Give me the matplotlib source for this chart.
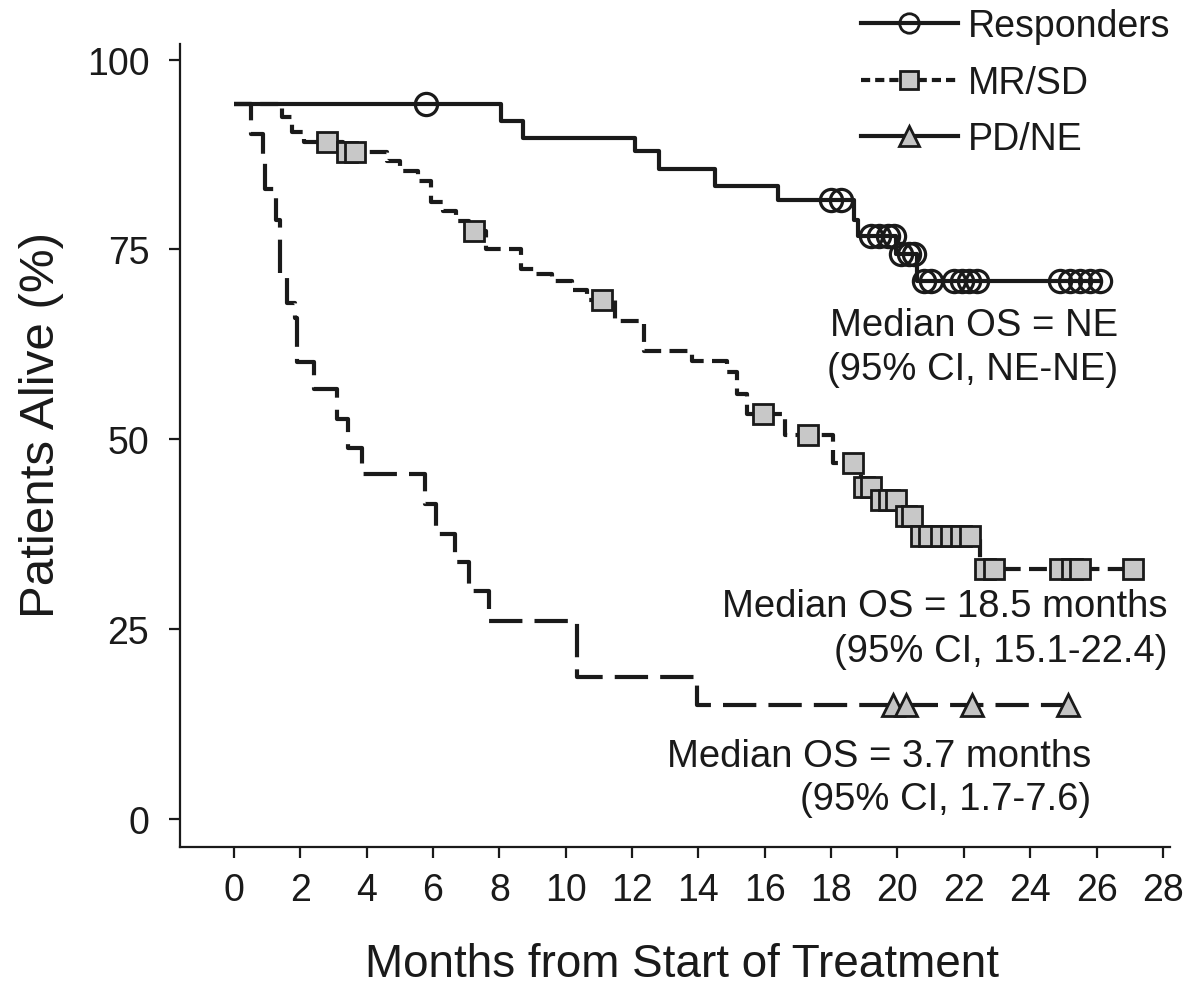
import numpy as np
import matplotlib
matplotlib.use("Agg")
import matplotlib.pyplot as plt
from matplotlib.lines import Line2D

# ---- data ----
resp_times = [0, 8.05, 8.7, 12.1, 12.8, 14.5, 16.4, 18.7, 18.8, 19.95, 20.6, 26.1]
resp_surv = [94.1, 91.9, 89.7, 87.9, 85.6, 83.4, 81.5, 78.9, 76.7, 74.4, 70.8, 70.8]
resp_cens = [5.8, 18.0, 18.3, 19.2, 19.45, 19.7, 19.9, 20.1, 20.35, 20.5,
             20.8, 21.0, 21.7, 21.95, 22.15, 22.4, 24.9, 25.2, 25.5, 25.8, 26.1]

mr_times = [0, 1.45, 1.75, 2.1, 3.3, 4.6, 5.0, 5.55, 5.95, 6.3, 6.7, 7.1, 7.6,
            8.65, 9.1, 9.6, 10.2, 10.65, 11.5, 12.35, 13.8, 14.85, 15.15, 15.45,
            16.6, 18.05, 18.9, 19.3, 20.1, 20.5, 22.5, 27.1]
mr_surv = [94.1, 92.5, 90.5, 89.1, 87.8, 86.6, 85.3, 84.0, 81.2, 80.0, 78.7, 77.4, 75.0,
           72.4, 71.7, 70.8, 69.7, 68.3, 65.5, 61.6, 60.3, 58.8, 55.9, 53.3,
           50.5, 46.9, 43.7, 42.0, 39.9, 37.3, 32.9, 32.9]
mr_cens = [2.8, 3.4, 3.65, 7.25, 11.1, 15.95, 17.3, 18.65, 19.0, 19.2, 19.5, 19.75,
           19.95, 20.25, 20.45, 20.7, 20.95, 21.3, 21.6, 21.9, 22.2, 22.65, 22.9,
           24.9, 25.25, 25.5, 27.1]

pd_times = [0, 0.5, 0.87, 0.93, 1.28, 1.4, 1.6, 1.85, 1.9, 2.4, 3.1, 3.45, 3.85,
            5.75, 6.1, 6.65, 7.1, 7.7, 10.35, 13.95, 25.15]
pd_surv = [94.1, 90.2, 87.5, 83.0, 78.9, 71.3, 68.0, 66.0, 60.2, 56.6, 52.6, 48.9, 45.4,
           41.4, 37.5, 33.8, 30.0, 26.0, 18.7, 15.0, 15.0]
pd_cens = [19.85, 20.25, 22.25, 25.15]

labels = ["Responders", "MR/SD", "PD/NE"]
x_ticks = list(range(0, 29, 2))
y_ticks = [0, 25, 50, 75, 100]
annotations = [
    ("Median OS = NE", "(95% CI, NE-NE)", 26.65, 65.1, 59.2),
    ("Median OS = 18.5 months", "(95% CI, 15.1-22.4)", 28.15, 28.0, 22.1),
    ("Median OS = 3.7 months", "(95% CI, 1.7-7.6)", 25.85, 8.3, 2.6),
]

plt.rcParams['font.family'] = ['Liberation Sans', 'DejaVu Sans']

fig = plt.figure(figsize=(11.91, 9.87), dpi=100)
ax = fig.add_axes([0.151, 0.141, 0.831, 0.813])

LW = 3.0
INK = '#1a1a1a'

def step_val(times, surv, t):
    idx = np.searchsorted(np.asarray(times), t, side='right') - 1
    return np.asarray(surv)[idx]

# PD/NE
ax.step(pd_times, pd_surv, where='post', color=INK, lw=LW,
        dashes=(8.0, 2.9), zorder=2)
ax.plot(pd_cens, step_val(pd_times, pd_surv, pd_cens), linestyle='none',
        marker='^', ms=16, mfc='#c4c4c4', mec=INK, mew=2.0, zorder=3)

# MR/SD
ax.step(mr_times, mr_surv, where='post', color=INK, lw=LW,
        dashes=(4.3, 2.0), zorder=2)
ax.plot(mr_cens, step_val(mr_times, mr_surv, mr_cens), linestyle='none',
        marker='s', ms=14, mfc='#c8c8c8', mec=INK, mew=2.0, zorder=3)

# Responders
ax.step(resp_times, resp_surv, where='post', color=INK, lw=LW,
        solid_capstyle='butt', zorder=4)
ax.plot(resp_cens, step_val(resp_times, resp_surv, resp_cens), linestyle='none',
        marker='o', ms=16, mfc='none', mec=INK, mew=2.3, zorder=5)

ax.set_xlim(-1.63, 28.2)
ax.set_ylim(-3.7, 102)
ax.set_xticks(x_ticks)
ax.set_yticks(y_ticks)
ax.tick_params(axis='both', direction='out', length=8, width=1.6,
               labelsize=27, colors=INK)
ax.tick_params(axis='x', pad=10)
ax.tick_params(axis='y', pad=14)
for s in ['top', 'right']:
    ax.spines[s].set_visible(False)
for s in ['left', 'bottom']:
    ax.spines[s].set_linewidth(1.6)
    ax.spines[s].set_color(INK)

ax.set_xlabel("Months from Start of Treatment", fontsize=33, color=INK)
ax.set_ylabel("Patients Alive (%)", fontsize=35.5, color=INK)
ax.xaxis.set_label_coords(0.507, -0.118)
ax.yaxis.set_label_coords(-0.117, 0.527)

for l1, l2, xr, y1, y2 in annotations:
    ax.text(xr, y1, l1, ha='right', va='center', fontsize=27.5, color=INK)
    ax.text(xr, y2, l2, ha='right', va='center', fontsize=27.5, color=INK)

handles = [
    Line2D([], [], color=INK, lw=LW, marker='o', ms=14, mfc='none',
           mec=INK, mew=2.0),
    Line2D([], [], color=INK, lw=LW, dashes=(2.2, 1.2), marker='s', ms=13,
           mfc='#c8c8c8', mec=INK, mew=2.0),
    Line2D([], [], color=INK, lw=LW, marker='^', ms=15, mfc='#c4c4c4',
           mec=INK, mew=2.0),
]
leg = fig.legend(handles, labels, loc='upper right', bbox_to_anchor=(0.995, 1.006),
                 frameon=False, fontsize=27, handlelength=2.6, handletextpad=0.25,
                 labelspacing=0.55, borderaxespad=0.0)
for t in leg.get_texts():
    t.set_color(INK)

fig.savefig("out.png", dpi=100)
